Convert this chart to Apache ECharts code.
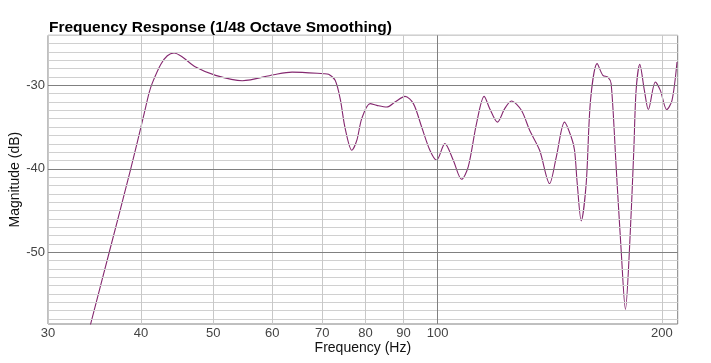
<!DOCTYPE html>
<html>
<head>
<meta charset="utf-8">
<script src="https://cdn.jsdelivr.net/npm/echarts@6/dist/echarts.min.js"></script>
<style>
html,body{margin:0;padding:0;background:#fff;}
#chart{width:711px;height:363px;}
</style>
</head>
<body>
<div id="chart"></div>
<script>
// Frequency (Hz)
var freqs = [34.2, 36.25, 38.74, 40.38, 41.0, 41.42, 42.5, 43.38, 44.29, 45.44, 47.34, 50.36, 54.68, 60.27, 63.77, 70.3, 71.4, 72.86, 74.0, 75.15, 76.72, 77.9, 79.12, 81.17, 82.86, 85.46, 87.67, 90.42, 92.79, 95.19, 97.65, 99.69, 102.27, 104.96, 107.68, 109.92, 112.77, 115.48, 117.48, 120.3, 123.04, 125.61, 129.54, 132.9, 137.06, 141.35, 144.3, 148.04, 151.13, 152.68, 153.95, 155.86, 158.28, 160.4, 163.74, 166.65, 169.24, 170.97, 173.63, 176.33, 178.68, 180.9, 183.36, 184.67, 186.78, 189.45, 191.8, 195.99, 199.03, 203.0, 206.34, 209.55];
// Magnitude (dB)
var magnitudes = [-58.7, -50.0, -40.0, -33.4, -30.9, -29.7, -27.5, -26.45, -26.13, -26.6, -27.8, -28.8, -29.44, -28.72, -28.41, -28.6, -28.68, -29.4, -31.6, -35.15, -37.78, -36.6, -33.95, -32.19, -32.4, -32.6, -32.0, -31.32, -32.19, -34.99, -37.78, -38.98, -36.98, -38.98, -41.26, -39.78, -34.59, -31.32, -32.79, -34.4, -32.79, -31.88, -32.99, -35.39, -37.78, -41.77, -38.59, -34.4, -36.19, -37.78, -41.77, -46.25, -41.77, -31.8, -27.4, -28.8, -29.0, -29.8, -39.78, -49.76, -56.86, -49.76, -37.78, -30.6, -27.49, -30.6, -32.9, -29.6, -30.6, -32.9, -31.8, -27.2];
// Tick labels
var xTicks = [30, 40, 50, 60, 70, 80, 90, 100, 200];
var xMajorTicks = [100];
var yTicks = [-50, -40, -30];

var xMin = 30, xMax = 210, yMin = -58.6, yMax = -24;

var pairs = freqs.map(function (f, i) { return [f, magnitudes[i]]; });

var labelFont = { fontFamily: 'Liberation Sans, Arial, sans-serif', fontSize: 13, color: '#444' };

var vLines = xTicks.map(function (v) {
  var major = xMajorTicks.indexOf(v) >= 0;
  return {
    xAxis: v,
    lineStyle: { color: major ? '#808080' : '#c8c8c8', width: 1, type: 'solid' },
    label: Object.assign({ show: true, position: 'start', distance: 3, formatter: String(v) }, labelFont)
  };
});
var hLines = [];
for (var d = Math.ceil(yMin); d <= Math.floor(yMax); d++) {
  var isMajor = yTicks.indexOf(d) >= 0;
  hLines.push({
    yAxis: d,
    lineStyle: { color: isMajor ? '#808080' : '#d0d0d0', width: 1, type: 'solid' },
    label: isMajor ? Object.assign({ show: true, position: 'start', distance: 3, formatter: String(d) }, labelFont) : { show: false }
  });
}

var chart = echarts.init(document.getElementById('chart'), null, { renderer: 'canvas' });
chart.setOption({
  animation: false,
  backgroundColor: '#fff',
  title: {
    text: 'Frequency Response (1/48 Octave Smoothing)',
    left: 44, top: 15,
    textStyle: { fontFamily: 'Liberation Sans, Arial, sans-serif', fontSize: 15.5, fontWeight: 'bold', color: '#000' }
  },
  grid: { left: 45.3, right: 33.3, top: 35.3, bottom: 39, show: true, borderColor: '#808080', borderWidth: 1, backgroundColor: 'transparent' },
  xAxis: {
    type: 'log', logBase: 10, min: xMin, max: xMax,
    name: 'Frequency (Hz)', nameLocation: 'middle', nameGap: 17,
    nameTextStyle: { fontFamily: 'Liberation Sans, Arial, sans-serif', fontSize: 14, color: '#111' },
    axisLine: { show: false }, axisTick: { show: false }, axisLabel: { show: false }, splitLine: { show: false }, minorSplitLine: { show: false }
  },
  yAxis: {
    type: 'value', min: yMin, max: yMax,
    name: 'Magnitude (dB)', nameLocation: 'middle', nameGap: 26, nameRotate: 90,
    nameTextStyle: { fontFamily: 'Liberation Sans, Arial, sans-serif', fontSize: 14, color: '#111' },
    axisLine: { show: false }, axisTick: { show: false }, axisLabel: { show: false }, splitLine: { show: false }
  },
  series: [
    {
      type: 'line', data: [], z: 1, silent: true,
      markLine: { silent: true, symbol: ['none', 'none'], animation: false, data: hLines.filter(function (h) { return h.label.show === false; }) }
    },
    {
      type: 'line', data: [], z: 1, silent: true,
      markLine: { silent: true, symbol: ['none', 'none'], animation: false, data: vLines }
    },
    {
      type: 'line', data: [], z: 1, silent: true,
      markLine: { silent: true, symbol: ['none', 'none'], animation: false, data: hLines.filter(function (h) { return h.label.show !== false; }) }
    },
    {
      type: 'line', data: pairs, z: 3, smooth: 0.3, showSymbol: false, clip: true,
      lineStyle: { color: '#84286f', width: 1.1, type: 'solid' }
    }
  ]
});
</script>
</body>
</html>
